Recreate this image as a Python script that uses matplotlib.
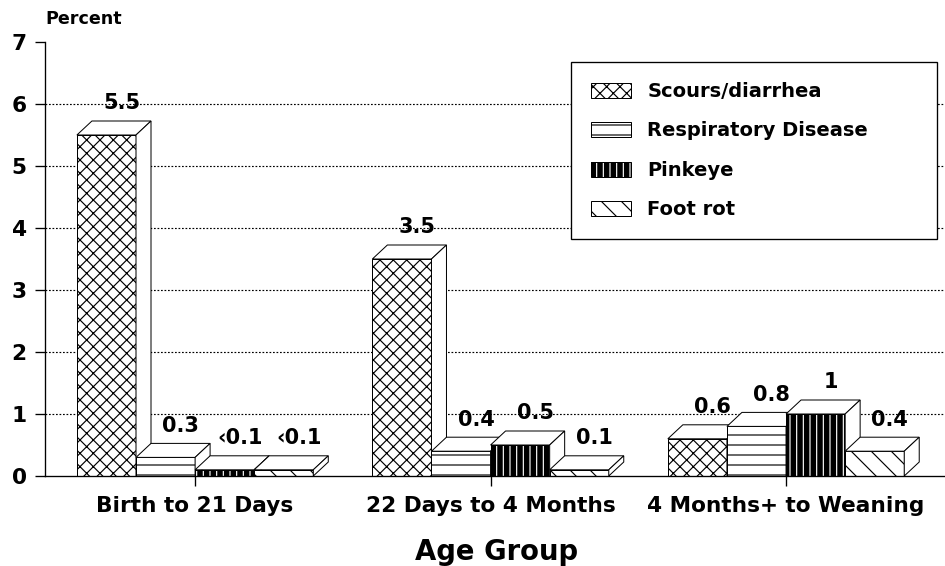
import matplotlib
matplotlib.use("Agg")
import matplotlib.pyplot as plt
from matplotlib.patches import Polygon, Patch

plt.rcParams['font.family'] = ['DejaVu Sans']
plt.rcParams['font.weight'] = 'bold'
plt.rcParams['hatch.linewidth'] = 0.7

# ---- data -------------------------------------------------------------
groups = ["Birth to 21 Days", "22 Days to 4 Months", "4 Months+ to Weaning"]
series_names = ["Scours/diarrhea", "Respiratory Disease", "Pinkeye", "Foot rot"]
scours = [5.5, 3.5, 0.6]
respiratory = [0.3, 0.4, 0.8]
pinkeye = [0.1, 0.5, 1.0]
foot_rot = [0.1, 0.1, 0.4]
# values reported only as "less than" the given figure
scours_lt = [False, False, False]
respiratory_lt = [False, False, False]
pinkeye_lt = [True, False, False]
foot_rot_lt = [True, False, False]
y_ticks = [0, 1, 2, 3, 4, 5, 6, 7]
grid_levels = [1, 2, 3, 4, 5, 6]

series_values = [scours, respiratory, pinkeye, foot_rot]
series_lt = [scours_lt, respiratory_lt, pinkeye_lt, foot_rot_lt]
hatches = ['xxx', '--', '|||', '\\\\']

# ---- figure -----------------------------------------------------------
DPI = 120
W_PX, H_PX = 945, 566
fig = plt.figure(figsize=(W_PX / DPI, H_PX / DPI), dpi=DPI)
ax_l, ax_b, ax_w, ax_h = 45, 90, 900, 434
ax = fig.add_axes([ax_l / W_PX, ax_b / H_PX, ax_w / W_PX, ax_h / H_PX])

xmin, xmax = -0.508, 2.538
ymin, ymax = 0, 7
ax.set_xlim(xmin, xmax)
ax.set_ylim(ymin, ymax)

# depth of the 3-D boxes, 15 px right and 14 px up
dx = 15 * (xmax - xmin) / ax_w
dy = 14 * (ymax - ymin) / ax_h
bar_w = 0.2
lw = 0.6

for y in grid_levels:
    ax.axhline(y, color='black', linestyle=(0, (1.5, 1.5)), linewidth=0.7, zorder=1)

for k, (vals, lts, hatch) in enumerate(zip(series_values, series_lt, hatches)):
    z = 3 + k
    lefts = [g + (k - 2) * bar_w for g in range(len(groups))]
    if series_names[k] == "Pinkeye":
        ax.bar(lefts, vals, width=bar_w, align='edge', facecolor='black',
               edgecolor='white', linewidth=0, hatch=hatch, zorder=z)
        ax.bar(lefts, vals, width=bar_w, align='edge', facecolor='none',
               edgecolor='black', linewidth=lw, zorder=z)
    else:
        ax.bar(lefts, vals, width=bar_w, align='edge', facecolor='white',
               edgecolor='black', linewidth=lw, hatch=hatch, zorder=z)
    for xl, v, lt in zip(lefts, vals, lts):
        xr = xl + bar_w
        top = Polygon([(xl, v), (xl + dx, v + dy), (xr + dx, v + dy), (xr, v)],
                      closed=True, facecolor='white', edgecolor='black',
                      linewidth=lw, zorder=z)
        side = Polygon([(xr, 0), (xr + dx, dy), (xr + dx, v + dy), (xr, v)],
                       closed=True, facecolor='white', edgecolor='black',
                       linewidth=lw, zorder=z)
        ax.add_patch(top)
        ax.add_patch(side)
        label = ("\u2039" if lt else "") + f"{v:g}"
        ax.annotate(label, xy=(xl + bar_w / 2 + dx, v + dy), xytext=(0, 7),
                    textcoords='offset points', ha='center', va='baseline',
                    fontsize=12.5, zorder=20)

# ---- axes styling -----------------------------------------------------
for s in ['top', 'right']:
    ax.spines[s].set_visible(False)
ax.spines['left'].set_linewidth(0.8)
ax.spines['bottom'].set_linewidth(0.8)
ax.spines['bottom'].set_zorder(10)

ax.set_yticks(y_ticks)
ax.set_yticklabels([str(t) for t in y_ticks], fontsize=13)
ax.tick_params(axis='y', direction='out', length=6, width=0.8, pad=5)

ax.set_xticks(range(len(groups)))
ax.set_xticklabels(groups, fontsize=13)
ax.tick_params(axis='x', direction='out', length=6, width=0.8, pad=6)

fig.text(0.525, 1 - 552 / H_PX, "Age Group", ha='center', va='center', fontsize=16.5)
fig.text(ax_l / W_PX, 1 - 19 / H_PX, "Percent", ha='left', va='center', fontsize=10.5)

# ---- legend -----------------------------------------------------------
handles = [
    Patch(facecolor='white', edgecolor='black', linewidth=lw, hatch=hatches[0]),
    Patch(facecolor='white', edgecolor='black', linewidth=lw, hatch=hatches[1]),
    (Patch(facecolor='black', edgecolor='white', linewidth=0, hatch=hatches[2]),
     Patch(facecolor='none', edgecolor='black', linewidth=lw)),
    Patch(facecolor='white', edgecolor='black', linewidth=lw, hatch=hatches[3]),
]
bx0 = (571 - ax_l) / ax_w
bx1 = (937 - ax_l) / ax_w
by1 = (476 - 62) / ax_h
by0 = (476 - 238) / ax_h
leg = ax.legend(handles, series_names, loc='upper left',
                bbox_to_anchor=(bx0, by0, bx1 - bx0, by1 - by0), mode='expand',
                prop={'size': 11.7, 'weight': 'bold'}, frameon=True, fancybox=False,
                framealpha=1, edgecolor='black', handlelength=2.05, handleheight=0.8,
                handletextpad=0.85, labelspacing=1.05, borderpad=1.02,
                borderaxespad=0)
leg.get_frame().set_linewidth(0.8)
leg.set_zorder(30)

fig.savefig("out.png", dpi=DPI)
